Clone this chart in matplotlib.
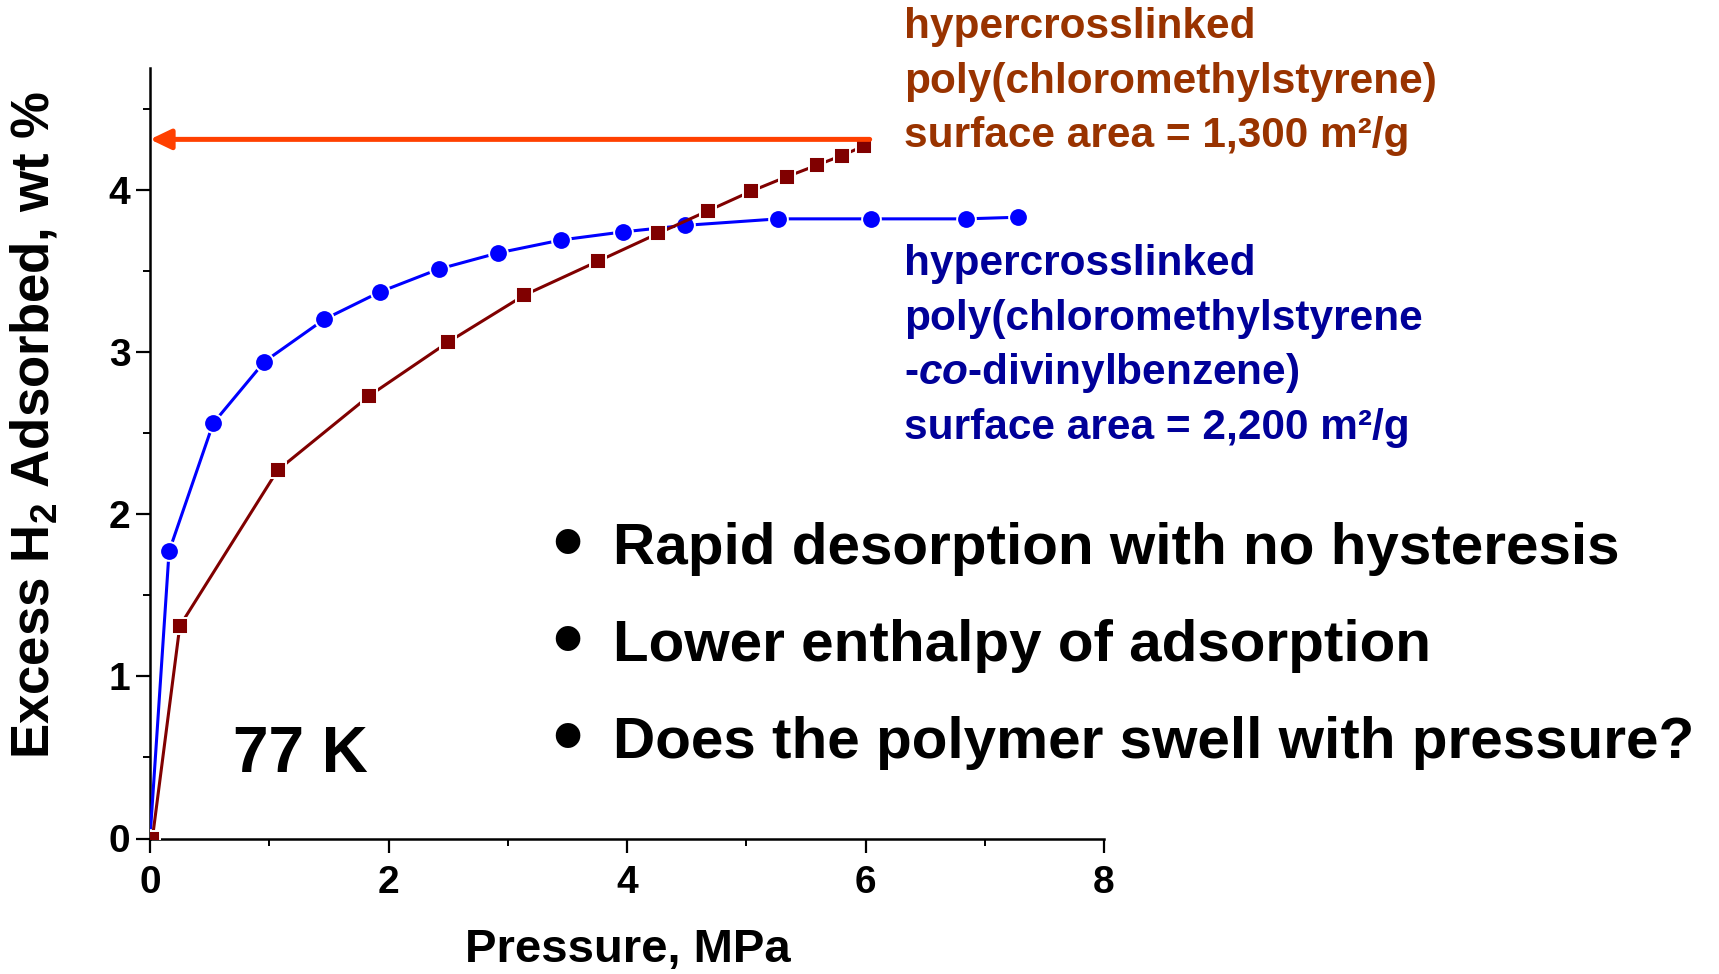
import matplotlib
matplotlib.use("Agg")
import matplotlib.pyplot as plt
import matplotlib.transforms as mtransforms
from matplotlib.ticker import MultipleLocator

# Excess H2 uptake at 77 K for two hypercrosslinked polymers
blue_pressure = [0.0, 0.16, 0.53, 0.96, 1.46, 1.93, 2.42, 2.92, 3.45, 3.97,
                 4.49, 5.27, 6.05, 6.84, 7.28]
blue_uptake = [0.0, 1.77, 2.56, 2.94, 3.20, 3.37, 3.51, 3.61, 3.69, 3.74,
               3.78, 3.82, 3.82, 3.82, 3.83]

red_pressure = [0.02, 0.25, 1.07, 1.84, 2.50, 3.14, 3.76, 4.26, 4.68, 5.04,
                5.34, 5.59, 5.80, 5.99]
red_uptake = [0.0, 1.31, 2.27, 2.73, 3.06, 3.35, 3.56, 3.73, 3.87, 3.99,
              4.08, 4.15, 4.21, 4.27]

max_uptake = 4.31
max_uptake_pressure = 6.035

x_ticks = [0, 2, 4, 6, 8]
y_ticks = [0, 1, 2, 3, 4]

red_label = ["hypercrosslinked",
             "poly(chloromethylstyrene)",
             "surface area = 1,300 m\u00b2/g"]
blue_label = ["hypercrosslinked",
              "poly(chloromethylstyrene",
              r"-$\mathit{co}$-divinylbenzene)",
              "surface area = 2,200 m\u00b2/g"]
bullets = ["Rapid desorption with no hysteresis",
           "Lower enthalpy of adsorption",
           "Does the polymer swell with pressure?"]

plt.rcParams["font.family"] = ["Liberation Sans", "DejaVu Sans"]
plt.rcParams["font.weight"] = "bold"
plt.rcParams["mathtext.fontset"] = "custom"
plt.rcParams["mathtext.rm"] = "Liberation Sans:bold"
plt.rcParams["mathtext.bf"] = "Liberation Sans:bold"
plt.rcParams["mathtext.it"] = "Liberation Sans:italic:bold"

W, H = 1719, 974
fig = plt.figure(figsize=(W / 100, H / 100), dpi=100)
# pixel coordinates measured from the top-left corner of the figure
px = mtransforms.Affine2D().scale(1 / W, -1 / H).translate(0, 1) + fig.transFigure

ax = fig.add_axes([150 / W, 1 - 838.5 / H, (1104 - 150) / W, (838.5 - 68) / H])
ax.set_xlim(0, 8)
ax.set_ylim(0, 4.75)

ax.plot(blue_pressure, blue_uptake, color="#0000FF", lw=2.2, marker="o",
        ms=13.5, mec="white", mew=1.4, zorder=3)
ax.plot(red_pressure, red_uptake, color="#800000", lw=2.2, marker="s",
        ms=11.5, mec="white", mew=1.4, zorder=4)

ax.annotate("", xy=(0, max_uptake), xytext=(max_uptake_pressure, max_uptake),
            arrowprops=dict(arrowstyle="-|>,head_length=1.25,head_width=0.6",
                            color="#FF4000", lw=3.6, shrinkA=0, shrinkB=0,
                            mutation_scale=10),
            zorder=5)

for side in ("top", "right"):
    ax.spines[side].set_visible(False)
for side in ("left", "bottom"):
    ax.spines[side].set_linewidth(1.8)

ax.set_xticks(x_ticks)
ax.set_yticks(y_ticks)
ax.xaxis.set_minor_locator(MultipleLocator(1))
ax.yaxis.set_minor_locator(MultipleLocator(0.5))
ax.tick_params(which="major", direction="out", length=10, width=1.6,
               labelsize=28, pad=4)
ax.tick_params(axis="x", which="major", pad=9)
ax.tick_params(which="minor", direction="out", length=5, width=1.4)

fig.text(627.5, 962, "Pressure, MPa", transform=px, ha="center",
         va="baseline", fontsize=34, fontweight="bold")
fig.text(34, 425, r"Excess H$_\mathregular{2}$ Adsorbed, wt %", transform=px,
         ha="center", va="center", rotation=90, fontsize=38, fontweight="bold")

fig.text(233, 772, "77 K", transform=px, ha="left", va="baseline",
         fontsize=46, fontweight="bold")

for line, base in zip(red_label, [38, 93, 147]):
    fig.text(904, base, line, transform=px, ha="left", va="baseline",
             fontsize=30.5, fontweight="bold", color="#993300")
for line, base in zip(blue_label, [275, 330, 384, 439]):
    fig.text(904, base, line, transform=px, ha="left", va="baseline",
             fontsize=30.5, fontweight="bold", color="#000099")

for line, base in zip(bullets, [563.5, 661, 758.5]):
    fig.text(567, base + 6, "\u2022", transform=px, ha="center", va="baseline",
             fontsize=62, fontweight="bold", color="black")
    fig.text(613, base, line, transform=px, ha="left", va="baseline",
             fontsize=42, fontweight="bold", color="black")

fig.savefig("out.png", dpi=100)
